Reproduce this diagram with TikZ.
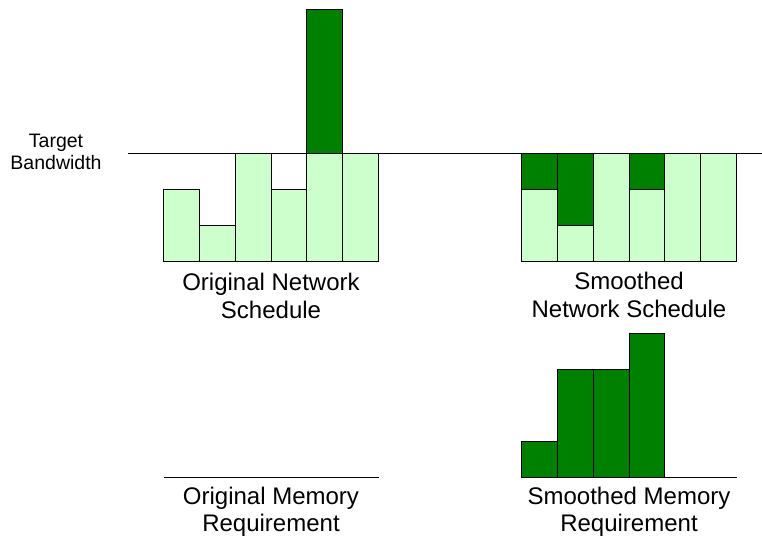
\documentclass[tikz,border=0pt]{standalone}
\usepackage{fontspec}
\setmainfont{Liberation Sans}
\usepackage{xcolor}
\definecolor{bwdark}{RGB}{0,128,0}
\definecolor{bwlight}{RGB}{204,255,204}

\begin{document}
\begin{tikzpicture}[x=1pt, y=-1pt,
    bar/.style={draw=black, line width=0.8pt},
    lowbar/.style={bar, fill=bwlight},
    highbar/.style={bar, fill=bwdark},
    caption/.style={align=center, anchor=base, font=\fontsize{24}{27.7}\selectfont},
    small/.style={align=center, anchor=base, font=\fontsize{19.5}{22.7}\selectfont}
]
\useasboundingbox (0,0) rectangle (762,540);

% Target bandwidth
\node[small] (target) at (56,170) {Target\\Bandwidth};
\coordinate (tstart) at (128,153.3);
\coordinate (tend) at (762,153.3);
\draw[line width=0.8pt] (tstart) -- (tend);

% Original network schedule
\draw[lowbar] (163.5,261) rectangle (199.3,189.3);
\draw[lowbar] (199.3,261) rectangle (235.2,225.3);
\draw[lowbar] (235.2,261) rectangle (271,153.3);
\draw[lowbar] (271,261) rectangle (306.8,189.3);
\draw[lowbar] (306.8,261) rectangle (342.7,153.3);
\draw[highbar] (306.8,153.3) rectangle (342.7,9.3);
\draw[lowbar] (342.7,261) rectangle (378.5,153.3);
\node[caption] (orignet) at (271,318.3) {Original Network\\Schedule};

% Smoothed network schedule
\draw[lowbar] (521.5,261) rectangle (557.3,153.3);
\draw[lowbar] (557.3,261) rectangle (593.2,153.3);
\draw[lowbar] (593.2,261) rectangle (629,153.3);
\draw[lowbar] (629,261) rectangle (664.8,153.3);
\draw[lowbar] (664.8,261) rectangle (700.7,153.3);
\draw[lowbar] (700.7,261) rectangle (736.5,153.3);
\draw[highbar] (521.5,189.3) rectangle (557.3,153.3);
\draw[highbar] (557.3,225.3) rectangle (593.2,153.3);
\draw[highbar] (629,189.3) rectangle (664.8,153.3);
\node[caption] (smoothnet) at (629,317.3) {Smoothed\\Network Schedule};

% Original memory requirement
\coordinate (omstart) at (163.5,477);
\coordinate (omend) at (378.5,477);
\draw[line width=0.8pt] (omstart) -- (omend);
\node[caption] (origmem) at (271,531.7) {Original Memory\\Requirement};

% Smoothed memory requirement
\coordinate (smstart) at (521.5,477);
\coordinate (smend) at (736.5,477);
\draw[line width=0.8pt] (smstart) -- (smend);
\draw[highbar] (521.5,477) rectangle (557.3,441);
\draw[highbar] (557.3,477) rectangle (593.2,369.3);
\draw[highbar] (593.2,477) rectangle (629,369.3);
\draw[highbar] (629,477) rectangle (664.8,333.3);
\node[caption] (smoothmem) at (629,531.7) {Smoothed Memory\\Requirement};

\end{tikzpicture}
\end{document}
